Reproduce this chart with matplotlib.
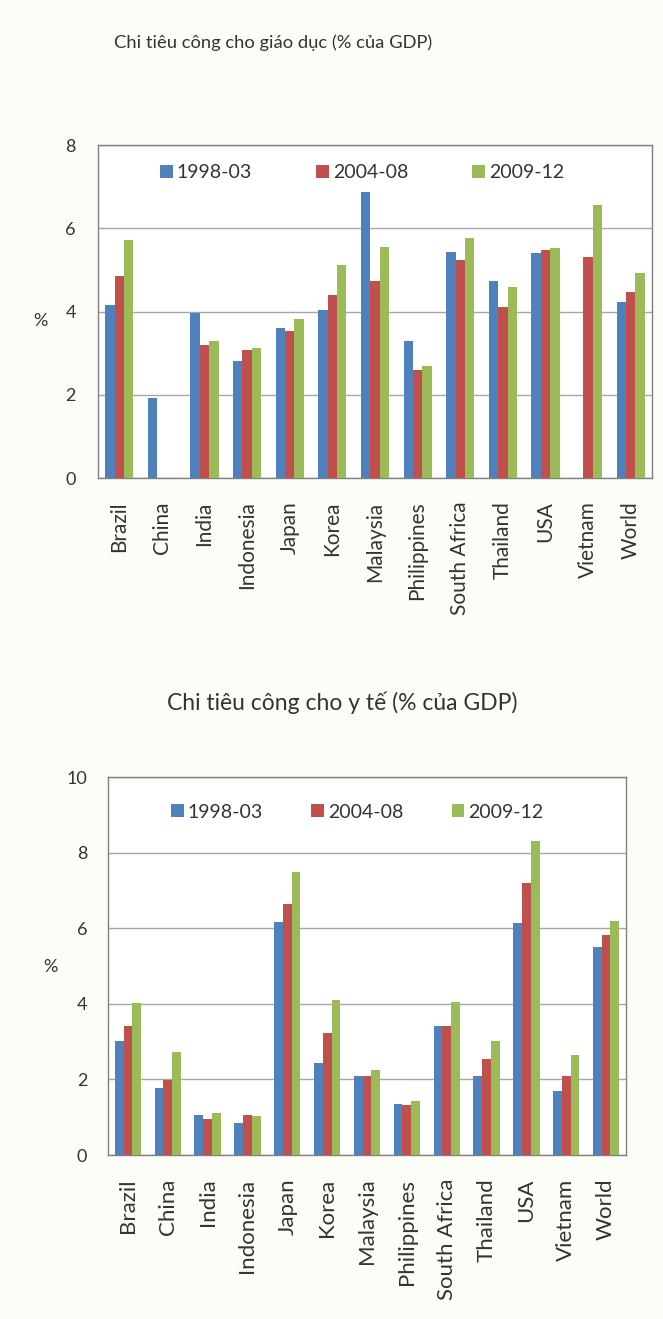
import matplotlib
matplotlib.use("Agg")
import matplotlib.pyplot as plt
import numpy as np

plt.rcParams['font.family'] = ['Lato', 'DejaVu Sans']

countries = ["Brazil", "China", "India", "Indonesia", "Japan", "Korea", "Malaysia",
             "Philippines", "South Africa", "Thailand", "USA", "Vietnam", "World"]
periods = ["1998-03", "2004-08", "2009-12"]
colors = ["#4F81BD", "#C0504D", "#9BBB59"]

# Public spending on education, % of GDP (NaN = no data)
edu_1998_03 = [4.15, 1.92, 3.97, 2.82, 3.60, 4.03, 6.88, 3.28, 5.43, 4.73, 5.41, np.nan, 4.23]
edu_2004_08 = [4.86, np.nan, 3.20, 3.08, 3.53, 4.40, 4.73, 2.59, 5.23, 4.12, 5.47, 5.31, 4.48]
edu_2009_12 = [5.72, np.nan, 3.30, 3.13, 3.82, 5.11, 5.56, 2.68, 5.76, 4.60, 5.53, 6.56, 4.93]

# Public spending on health, % of GDP
health_1998_03 = [3.01, 1.77, 1.06, 0.84, 6.17, 2.43, 2.08, 1.35, 3.42, 2.08, 6.13, 1.68, 5.49]
health_2004_08 = [3.42, 1.99, 0.96, 1.06, 6.64, 3.23, 2.10, 1.31, 3.42, 2.54, 7.20, 2.08, 5.82]
health_2009_12 = [4.03, 2.73, 1.12, 1.04, 7.49, 4.10, 2.24, 1.42, 4.05, 3.01, 8.31, 2.64, 6.19]

W, H = 663, 1319
bg = "#FDFDF8"
fig = plt.figure(figsize=(W / 100, H / 100), dpi=100, facecolor=bg)

text_color = "#333333"


def px_rect(left, top, right, bottom):
    return [left / W, 1 - bottom / H, (right - left) / W, (bottom - top) / H]


def draw_panel(rect, series, ymax, title, title_px, title_size, ylabel_px,
               legend_anchor, legend_gap, ypad, xsize):
    ax = fig.add_axes(rect)
    ax.set_facecolor("white")
    x = np.arange(len(countries))
    w = 0.22
    for i, (vals, c, lab) in enumerate(zip(series, colors, periods)):
        ax.bar(x + (i - 1) * w, vals, width=w, color=c, label=lab, zorder=3)
    ax.set_xlim(-0.5, len(countries) - 0.5)
    ax.set_ylim(0, ymax)
    ticks = np.arange(0, ymax + 1, 2)
    ax.set_yticks(ticks)
    ax.set_yticklabels([str(v) for v in ticks], fontsize=13, color=text_color)
    ax.set_xticks(x)
    ax.set_xticklabels(countries, rotation=90, fontsize=xsize, color=text_color)
    ax.tick_params(axis="x", length=0, pad=17)
    ax.tick_params(axis="y", length=0, pad=ypad)
    ax.grid(axis="y", color="#A6A6A6", linewidth=1.0, zorder=0)
    for s in ax.spines.values():
        s.set_color("#808080")
        s.set_linewidth(1.0)
    leg = ax.legend(loc="center", bbox_to_anchor=legend_anchor, ncol=3, frameon=False,
                    fontsize=14, handlelength=0.65, handleheight=0.65,
                    handletextpad=0.2, columnspacing=legend_gap)
    for t in leg.get_texts():
        t.set_color(text_color)
    fig.text(title_px[0] / W, 1 - title_px[1] / H, title, ha="center", va="center",
             fontsize=title_size, color=text_color)
    fig.text(ylabel_px[0] / W, 1 - ylabel_px[1] / H, "%", ha="center", va="center",
             fontsize=13, color=text_color)
    return ax


draw_panel(px_rect(98, 145, 652, 478),
           [edu_1998_03, edu_2004_08, edu_2009_12], 8,
           "Chi tiêu công cho giáo dục (% của GDP)", (273, 43), 13.2,
           (40, 321), (0.477, 0.916), 3.3, 16, 15)

draw_panel(px_rect(108, 777, 626, 1155),
           [health_1998_03, health_2004_08, health_2009_12], 10,
           "Chi tiêu công cho y tế (% của GDP)", (342, 703), 16.5,
           (50, 967), (0.481, 0.907), 2.5, 15, 16)

fig.savefig("out.png", dpi=100, facecolor=bg)
